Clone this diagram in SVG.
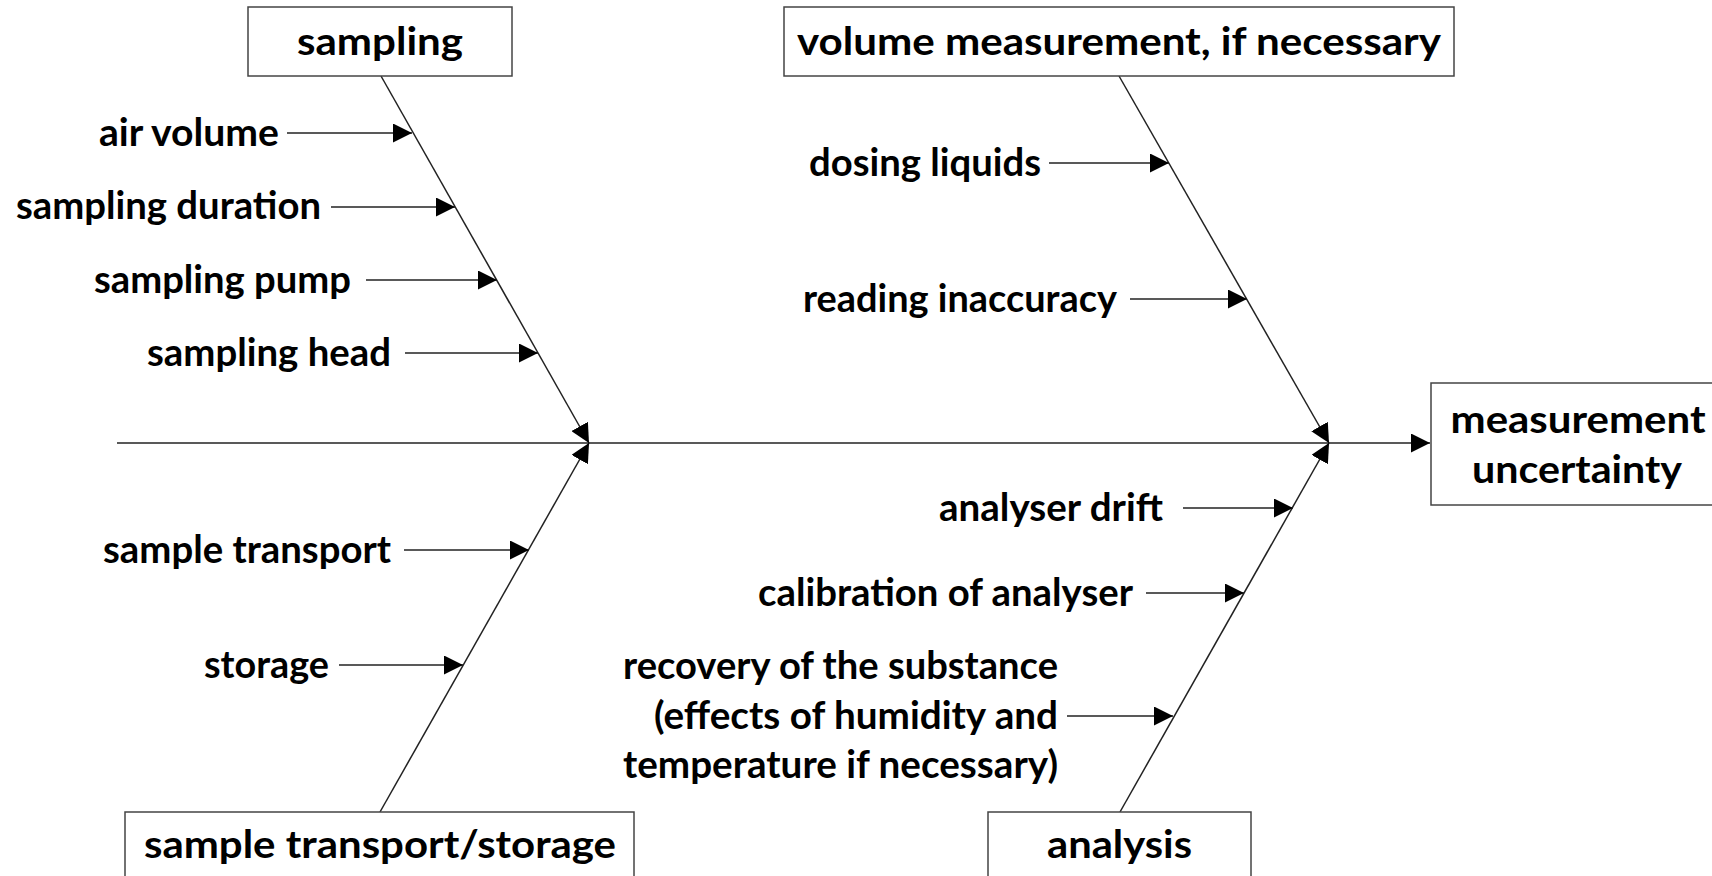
<svg xmlns="http://www.w3.org/2000/svg" width="1712" height="876" viewBox="0 0 1712 876">
<style>
.box{fill:#fff;stroke:#444;stroke-width:1.5}
.t{font-family:Lato,"Liberation Sans",sans-serif;font-weight:bold;font-size:39px;fill:#000}
.e{text-anchor:end}
.m{text-anchor:middle}
.ln{stroke:#222;stroke-width:1.5;fill:none}
.ar{marker-end:url(#ah)}
</style>
<defs>
<marker id="ah" viewBox="0 0 19 19" refX="19" refY="9.5" markerWidth="19" markerHeight="19" markerUnits="userSpaceOnUse" orient="auto">
<path d="M0,0 L19,9.5 L0,19 Z" fill="#000"/>
</marker>
</defs>
<rect width="1712" height="876" fill="#fff"/>
<g id="connectors">
<line class="ln ar" x1="117" y1="443" x2="1430" y2="443"/>
<line class="ln ar" x1="381" y1="76" x2="589" y2="443"/>
<line class="ln ar" x1="1119" y1="76" x2="1329" y2="443"/>
<line class="ln ar" x1="380" y1="812" x2="589" y2="443"/>
<line class="ln ar" x1="1120" y1="812" x2="1329" y2="443"/>
<line class="ln ar" x1="287" y1="133" x2="412" y2="133"/>
<line class="ln ar" x1="331" y1="207" x2="455" y2="207"/>
<line class="ln ar" x1="366" y1="280" x2="497" y2="280"/>
<line class="ln ar" x1="405" y1="353" x2="538" y2="353"/>
<line class="ln ar" x1="1049" y1="163" x2="1169" y2="163"/>
<line class="ln ar" x1="1130" y1="299" x2="1247" y2="299"/>
<line class="ln ar" x1="404" y1="550" x2="529" y2="550"/>
<line class="ln ar" x1="339" y1="665" x2="463" y2="665"/>
<line class="ln ar" x1="1183" y1="508" x2="1293" y2="508"/>
<line class="ln ar" x1="1146" y1="593" x2="1244" y2="593"/>
<line class="ln ar" x1="1067" y1="716" x2="1173" y2="716"/>
</g>
<g id="sampling">
<rect class="box" x="248" y="7" width="264" height="69"/>
<text class="t m" x="380" y="55" textLength="166" lengthAdjust="spacingAndGlyphs">sampling</text>
</g>
<g id="volume">
<rect class="box" x="784" y="7" width="670" height="69"/>
<text class="t m" x="1119" y="55" textLength="644" lengthAdjust="spacingAndGlyphs">volume measurement, if necessary</text>
</g>
<g id="result">
<rect class="box" x="1431" y="383" width="300" height="122"/>
<text class="t m" x="1578" y="433" textLength="255" lengthAdjust="spacingAndGlyphs">measurement</text>
<text class="t m" x="1577" y="483" textLength="210" lengthAdjust="spacingAndGlyphs">uncertainty</text>
</g>
<g id="transport">
<rect class="box" x="125" y="812" width="509" height="80"/>
<text class="t m" x="380" y="858" textLength="472" lengthAdjust="spacingAndGlyphs">sample transport/storage</text>
</g>
<g id="analysis">
<rect class="box" x="988" y="812" width="263" height="80"/>
<text class="t m" x="1119.5" y="858" textLength="145" lengthAdjust="spacingAndGlyphs">analysis</text>
</g>
<g id="labels">
<text class="t e" x="279" y="146" textLength="180" lengthAdjust="spacingAndGlyphs">air volume</text>
<text class="t e" x="321" y="219" textLength="305" lengthAdjust="spacingAndGlyphs">sampling duration</text>
<text class="t e" x="351" y="293" textLength="257" lengthAdjust="spacingAndGlyphs">sampling pump</text>
<text class="t e" x="391" y="366" textLength="244" lengthAdjust="spacingAndGlyphs">sampling head</text>
<text class="t e" x="1041" y="176" textLength="232" lengthAdjust="spacingAndGlyphs">dosing liquids</text>
<text class="t e" x="1117" y="312" textLength="314" lengthAdjust="spacingAndGlyphs">reading inaccuracy</text>
<text class="t e" x="391" y="563" textLength="288" lengthAdjust="spacingAndGlyphs">sample transport</text>
<text class="t e" x="329" y="678" textLength="125" lengthAdjust="spacingAndGlyphs">storage</text>
<text class="t e" x="1163" y="521" textLength="224" lengthAdjust="spacingAndGlyphs">analyser drift</text>
<text class="t e" x="1133" y="606" textLength="375" lengthAdjust="spacingAndGlyphs">calibration of analyser</text>
<text class="t e" x="1058" y="679" textLength="435" lengthAdjust="spacingAndGlyphs">recovery of the substance</text>
<text class="t e" x="1058" y="729" textLength="404" lengthAdjust="spacingAndGlyphs">(effects of humidity and</text>
<text class="t e" x="1058" y="778" textLength="435" lengthAdjust="spacingAndGlyphs">temperature if necessary)</text>
</g>
</svg>
